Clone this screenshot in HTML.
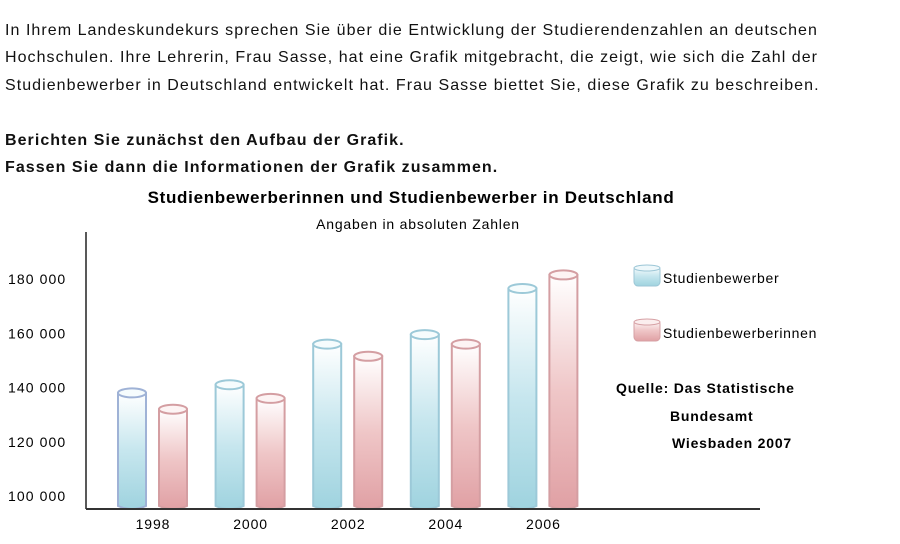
<!DOCTYPE html>
<html><head><meta charset="utf-8"><style>
body{margin:0;width:900px;height:544px;background:#fff;font-family:"Liberation Sans",sans-serif;color:#111;overflow:hidden;position:relative}
.t{position:absolute;white-space:nowrap;letter-spacing:1.05px}
</style></head><body>
<div class="t" style="left:5px;top:22px;font-size:16px">In Ihrem Landeskundekurs sprechen Sie über die Entwicklung der Studierendenzahlen an deutschen</div>
<div class="t" style="left:5px;top:49px;font-size:16px">Hochschulen. Ihre Lehrerin, Frau Sasse, hat eine Grafik mitgebracht, die zeigt, wie sich die Zahl der</div>
<div class="t" style="left:5px;top:77px;font-size:16px">Studienbewerber in Deutschland entwickelt hat. Frau Sasse biettet Sie, diese Grafik zu beschreiben.</div>
<div class="t" style="left:5px;top:132px;font-size:16px;font-weight:bold">Berichten Sie zunächst den Aufbau der Grafik.</div>
<div class="t" style="left:5px;top:159px;font-size:16px;font-weight:bold">Fassen Sie dann die Informationen der Grafik zusammen.</div>
<svg id="chart" width="900" height="544" style="position:absolute;left:0;top:0" font-family="Liberation Sans, sans-serif">
<defs>
<linearGradient id="gb" x1="0" y1="0" x2="0" y2="1"><stop offset="0" stop-color="#ffffff"/><stop offset="0.5" stop-color="#c6e6ee"/><stop offset="1" stop-color="#9fd3df"/></linearGradient>
<linearGradient id="gp" x1="0" y1="0" x2="0" y2="1"><stop offset="0" stop-color="#ffffff"/><stop offset="0.5" stop-color="#efc6c7"/><stop offset="1" stop-color="#e0a0a4"/></linearGradient>
</defs>
<text x="411" y="203" font-size="17" font-weight="bold" text-anchor="middle" letter-spacing="0.7">Studienbewerberinnen und Studienbewerber in Deutschland</text>
<text x="418" y="229" font-size="14" text-anchor="middle" letter-spacing="0.8">Angaben in absoluten Zahlen</text>
<g id="plot"></g>
<g>
<rect x="634" y="266" width="26" height="20" rx="4" fill="url(#gb)" stroke="#9cc6d6"/>
<ellipse cx="647" cy="268" rx="13" ry="3" fill="#eef8fb" stroke="#9cc6d6"/>
<text x="663" y="283" font-size="14" letter-spacing="0.7">Studienbewerber</text>
<rect x="634" y="320" width="26" height="21" rx="4" fill="url(#gp)" stroke="#d6a0a4"/>
<ellipse cx="647" cy="322" rx="13" ry="3" fill="#fbeeee" stroke="#d6a0a4"/>
<text x="663" y="338" font-size="14" letter-spacing="0.7">Studienbewerberinnen</text>
</g>
<text x="616" y="393" font-size="14" font-weight="bold" letter-spacing="0.8">Quelle: Das Statistische</text>
<text x="670" y="421" font-size="14" font-weight="bold" letter-spacing="0.8">Bundesamt</text>
<text x="672" y="448" font-size="14" font-weight="bold" letter-spacing="0.8">Wiesbaden 2007</text>
</svg>
<script>
const categories=["1998","2000","2002","2004","2006"];
const bewerber=[138000,141000,156000,159500,176500];
const bewerberinnen=[132000,136000,151500,156000,181500];
const yTicks=[100000,120000,140000,160000,180000];
const tickLabels=["100 000","120 000","140 000","160 000","180 000"];
const ns="http://www.w3.org/2000/svg";
const g=document.getElementById("plot");
function y(v){return 496-(v-100000)/20000*54.25;}
function xc(i){return 153+i*97.6;}
const base=509;
function mk(t,a){const e=document.createElementNS(ns,t);for(const k in a)e.setAttribute(k,a[k]);g.appendChild(e);return e;}
yTicks.forEach((v,i)=>{
 const t=mk("text",{x:8,y:y(v)+5,"font-size":14,"letter-spacing":1.1});t.textContent=tickLabels[i];
 
 
});
const ax=mk("line",{x1:86,y1:232,x2:86,y2:base,stroke:"#222","stroke-width":1.5});


function bar(cx,v,fill,stroke,top,name){
 const w=28,ty=y(v);
 const r=mk("path",{d:`M${cx-w/2},${ty} L${cx-w/2},${base-3} Q${cx},${base+3} ${cx+w/2},${base-3} L${cx+w/2},${ty} Z`,fill:fill,stroke:stroke,"stroke-width":2});
 
 
 mk("ellipse",{cx:cx,cy:ty,rx:w/2,ry:4.5,fill:top,stroke:stroke,"stroke-width":2});
}
categories.forEach((c,i)=>{
 bar(xc(i)-21,bewerber[i],"url(#gb)",i==0?"#9fb2d6":"#9cc9d8","#f6fcfd","bar-bewerber-"+c);
 bar(xc(i)+20,bewerberinnen[i],"url(#gp)","#d49ea2","#fdf4f4","bar-bewerberinnen-"+c);
 const t=mk("text",{x:xc(i),y:base+20,"font-size":14,"text-anchor":"middle","letter-spacing":0.9});t.textContent=c;
 
 
});
const xa=mk("line",{x1:86,y1:base,x2:760,y2:base,stroke:"#333","stroke-width":2});


</script>
</body></html>
